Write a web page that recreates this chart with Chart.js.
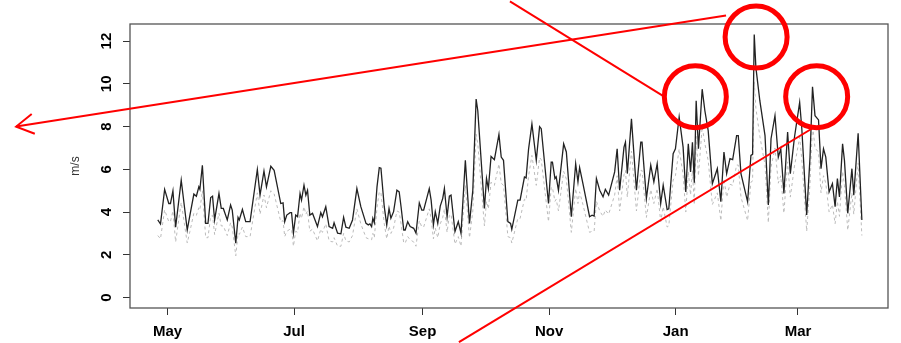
<!DOCTYPE html>
<html>
<head>
<meta charset="utf-8">
<script src="https://cdn.jsdelivr.net/npm/chart.js@4/dist/chart.umd.min.js"></script>
<style>
  html, body { margin: 0; padding: 0; background: #fff; }
  #chart { display: block; }
</style>
</head>
<body>
<canvas id="chart" width="901" height="343"></canvas>
<script>
// days counted from 1 May, values in m/s
const dayOffsets = [
  -4.7, -3.4, -1.4, 0.6, 1.4, 2.6, 3.9, 6.6, 9.5, 10.8, 12.7, 13.9, 15.1, 15.6, 16.8, 18.4, 19.5, 20.8, 21.7, 22.7,
  24.8, 25.9, 26.9, 28.8, 30.4, 31.2, 32.9, 34.0, 34.6, 36.1, 37.7, 39.8, 43.3, 44.6, 46.5, 47.7, 49.8, 51.4, 54.6, 55.7,
  56.5, 57.5, 59.1, 59.8, 60.7, 61.8, 62.7, 63.9, 64.6, 65.8, 66.7, 67.5, 68.6, 69.9, 72.3, 73.9, 74.7, 76.3, 77.9, 79.6,
  80.3, 82.0, 83.6, 84.9, 86.0, 87.6, 89.2, 91.3, 93.2, 95.7, 96.8, 97.6, 98.4, 99.0, 99.7, 101.0, 102.1, 102.9, 104.5, 105.7,
  106.8, 107.7, 109.0, 110.6, 111.7, 112.6, 113.9, 114.6, 115.8, 117.0, 118.7, 119.8, 121.4, 122.6, 123.5, 126.2, 127.1, 128.2, 129.1, 130.3,
  131.5, 132.7, 133.5, 134.8, 135.9, 136.7, 138.6, 140.2, 141.5, 143.6, 145.6, 147.2, 148.8, 149.6, 152.8, 153.8, 154.7, 156.0, 157.6, 159.8,
  160.9, 162.0, 164.1, 165.4, 166.0, 168.9, 170.0, 172.1, 172.9, 174.1, 175.7, 177.8, 179.4, 180.2, 183.7, 185.0, 185.6, 186.8, 187.4, 188.5,
  191.0, 192.3, 194.7, 196.8, 197.9, 198.7, 200.3, 203.5, 204.7, 205.7, 206.8, 208.4, 210.0, 211.1, 212.7, 215.6, 216.8, 218.0, 220.1, 220.8,
  221.7, 223.7, 226.1, 228.2, 228.8, 230.9, 233.0, 234.5, 236.1, 237.8, 239.0, 240.9, 241.7, 243.8, 244.9, 246.7, 248.6, 249.9, 251.1, 252.2,
  253.1, 254.0, 254.9, 256.0, 257.8, 259.1, 260.7, 262.7, 265.1, 266.8, 268.3, 269.6, 271.2, 272.5, 274.4, 275.2, 276.5, 279.7, 281.3, 282.1,
  282.9, 283.7, 285.6, 288.1, 289.7, 291.0, 292.9, 294.5, 295.7, 297.2, 299.0, 300.3, 302.3, 304.8, 305.8, 308.2, 309.8, 311.0, 312.2, 313.9,
  315.1, 316.3, 317.4, 319.0, 320.6, 321.9, 323.0, 324.0, 325.5, 326.4, 328.0, 330.0, 330.9, 333.0, 334.8
];
const speed = [
  3.63, 3.44, 5.06, 4.40, 4.40, 4.99, 3.29, 5.49, 3.16, 3.86, 4.84, 4.74, 5.18, 5.06, 6.19, 3.47, 3.47, 4.68, 4.74, 3.63,
  4.87, 4.17, 4.17, 3.63, 4.33, 4.09, 2.54, 3.75, 3.63, 4.12, 3.55, 3.55, 5.99, 4.79, 5.92, 5.18, 6.14, 5.95, 4.40, 4.43,
  3.55, 3.86, 3.97, 3.97, 3.01, 3.86, 3.78, 4.87, 4.56, 5.26, 4.79, 5.02, 3.86, 3.94, 3.32, 3.97, 3.78, 4.25, 3.32, 3.24,
  3.50, 3.01, 2.98, 3.75, 3.29, 3.24, 3.63, 5.10, 4.25, 3.47, 3.40, 3.45, 3.32, 3.71, 3.50, 5.18, 6.08, 6.05, 4.25, 3.40,
  4.17, 3.71, 4.02, 5.02, 4.94, 4.25, 3.16, 3.16, 3.55, 3.32, 3.24, 3.01, 4.43, 4.09, 4.09, 5.10, 4.56, 3.40, 4.02, 3.47,
  4.28, 4.64, 5.10, 3.78, 4.74, 4.79, 3.09, 3.55, 3.01, 6.42, 3.47, 5.02, 9.29, 8.74, 4.17, 5.57, 5.10, 6.60, 6.45, 7.63,
  6.57, 6.42, 3.55, 3.47, 3.19, 4.56, 4.56, 5.64, 5.60, 6.96, 8.12, 6.42, 8.00, 7.90, 4.40, 6.34, 6.34, 5.57, 5.65, 5.02,
  7.19, 6.81, 3.78, 6.26, 5.41, 6.08, 5.33, 3.78, 3.85, 3.81, 5.57, 5.02, 4.71, 5.06, 4.79, 5.88, 6.96, 5.02, 7.04, 7.27,
  5.80, 8.36, 5.02, 7.27, 7.27, 4.64, 6.19, 5.41, 6.26, 4.40, 5.26, 4.12, 4.15, 6.73, 6.96, 8.45, 7.04, 4.94, 7.19, 5.88,
  7.27, 5.37, 9.21, 6.96, 9.75, 8.74, 7.81, 5.33, 6.03, 4.48, 6.81, 5.80, 6.50, 6.45, 7.58, 7.58, 5.80, 4.48, 6.65, 6.70,
  12.31, 10.76, 9.21, 7.58, 4.33, 7.43, 8.51, 6.57, 6.96, 4.87, 7.74, 5.80, 7.50, 9.13, 7.97, 3.86, 6.57, 9.86, 8.51, 8.31,
  6.03, 6.96, 6.57, 4.94, 5.33, 4.25, 5.57, 4.71, 7.19, 6.42, 3.94, 6.03, 4.79, 7.69, 3.63
];
const speedLow = [
  2.90, 2.75, 4.10, 3.55, 3.55, 4.05, 2.60, 4.45, 2.55, 3.10, 3.95, 3.85, 4.20, 4.10, 5.00, 2.80, 2.80, 3.80, 3.85, 2.95,
  3.95, 3.35, 3.35, 2.90, 3.50, 3.30, 1.95, 3.00, 2.95, 3.30, 2.85, 2.85, 4.90, 3.90, 4.80, 4.20, 5.00, 4.85, 3.55, 3.60,
  2.85, 3.10, 3.20, 3.20, 2.40, 3.10, 3.05, 3.95, 3.70, 4.25, 3.90, 4.05, 3.10, 3.20, 2.65, 3.20, 3.05, 3.45, 2.65, 2.60,
  2.80, 2.40, 2.40, 3.00, 2.65, 2.60, 2.90, 4.15, 3.45, 2.80, 2.75, 2.75, 2.70, 3.00, 2.80, 4.20, 4.95, 4.90, 3.45, 2.75,
  3.35, 3.00, 3.25, 4.05, 4.00, 3.45, 2.55, 2.55, 2.85, 2.70, 2.60, 2.40, 3.60, 3.30, 3.30, 4.15, 3.70, 2.75, 3.25, 2.80,
  3.45, 3.75, 4.15, 3.05, 3.85, 3.90, 2.50, 2.85, 2.40, 5.25, 2.80, 4.05, 7.65, 7.20, 3.35, 4.50, 4.15, 5.40, 5.25, 6.25,
  5.35, 5.25, 2.85, 2.80, 2.55, 3.70, 3.70, 4.60, 4.55, 5.70, 6.65, 5.25, 6.55, 6.45, 3.55, 5.15, 5.15, 4.50, 4.60, 4.05,
  5.90, 5.55, 3.05, 5.10, 4.40, 4.95, 4.35, 3.05, 3.10, 3.10, 4.50, 4.05, 3.80, 4.10, 3.90, 4.80, 5.70, 4.05, 5.75, 5.95,
  4.70, 6.85, 4.05, 5.95, 5.95, 3.75, 5.05, 4.40, 5.10, 3.55, 4.25, 3.30, 3.35, 5.50, 5.70, 6.95, 5.75, 4.00, 5.90, 4.80,
  5.95, 4.35, 7.55, 5.70, 8.00, 7.20, 6.40, 4.35, 4.90, 3.60, 5.55, 4.70, 5.30, 5.25, 6.20, 6.20, 4.70, 3.60, 5.40, 5.45,
  10.10, 8.85, 7.55, 6.20, 3.50, 6.10, 7.00, 5.35, 5.70, 3.95, 6.35, 4.70, 6.15, 7.50, 6.50, 3.10, 5.35, 8.10, 7.00, 6.80,
  4.90, 5.70, 5.35, 4.00, 4.35, 3.45, 4.50, 3.80, 5.90, 5.25, 3.15, 4.90, 3.90, 6.30, 2.90
];
const monthTicks = [0, 61, 123, 184, 245, 304];
const monthLabels = ["May", "Jul", "Sep", "Nov", "Jan", "Mar"];
const yTicks = [0, 2, 4, 6, 8, 10, 12];
const yTitle = "m/s";

// red marker circles and lines drawn over the chart, in data units
const circles = [[254.5, 9.40], [283.8, 12.19], [313.0, 9.40]];
const redLines = [
  [165.1, 13.86, 238.9, 9.44],
  [269.3, 13.2, -73.0, 8.0],   // ends in an arrow head
  [310.8, 7.91, 140.5, -2.09],
];

const FONT = '"Liberation Sans", Arial, Helvetica, sans-serif';

const overlay = {
  id: "overlay",
  afterDraw(chart) {
    const { ctx, chartArea: a, scales: { x, y } } = chart;
    ctx.save();
    // box round the plot
    ctx.strokeStyle = "#555";
    ctx.lineWidth = 1.3;
    ctx.strokeRect(a.left, a.top, a.right - a.left, a.bottom - a.top);

    // y tick labels, turned like R draws them
    ctx.fillStyle = "#000";
    ctx.font = "bold 15px " + FONT;
    ctx.textAlign = "center";
    ctx.textBaseline = "middle";
    yTicks.forEach((v) => {
      ctx.save();
      ctx.translate(107, y.getPixelForValue(v));
      ctx.rotate(-Math.PI / 2);
      ctx.fillText(String(v), 0, 0);
      ctx.restore();
    });
    ctx.save();
    ctx.font = "12px " + FONT;
    ctx.fillStyle = "#333";
    ctx.translate(76, (a.top + a.bottom) / 2);
    ctx.rotate(-Math.PI / 2);
    ctx.fillText(yTitle, 0, 0);
    ctx.restore();

    // annotations
    ctx.strokeStyle = "#ff0000";
    ctx.lineWidth = 2;
    redLines.forEach(([x1, y1, x2, y2], i) => {
      const p1 = [x.getPixelForValue(x1), y.getPixelForValue(y1)];
      const p2 = [x.getPixelForValue(x2), y.getPixelForValue(y2)];
      ctx.beginPath();
      ctx.moveTo(p1[0], p1[1]);
      ctx.lineTo(p2[0], p2[1]);
      ctx.stroke();
      if (i === 1) {
        const ang = Math.atan2(p1[1] - p2[1], p1[0] - p2[0]);
        ctx.beginPath();
        ctx.moveTo(p2[0] + 20 * Math.cos(ang - Math.PI / 6), p2[1] + 20 * Math.sin(ang - Math.PI / 6));
        ctx.lineTo(p2[0], p2[1]);
        ctx.lineTo(p2[0] + 20 * Math.cos(ang + Math.PI / 6), p2[1] + 20 * Math.sin(ang + Math.PI / 6));
        ctx.stroke();
      }
    });
    ctx.lineWidth = 5;
    circles.forEach(([cx, cy]) => {
      ctx.beginPath();
      ctx.arc(x.getPixelForValue(cx), y.getPixelForValue(cy), 31, 0, Math.PI * 2);
      ctx.stroke();
    });
    ctx.restore();
  },
};

new Chart(document.getElementById("chart"), {
  type: "line",
  data: {
    datasets: [
      {
        data: dayOffsets.map((d, i) => ({ x: d, y: speed[i] })),
        borderColor: "#222",
        borderWidth: 1.3,
        pointRadius: 0,
        tension: 0,
        order: 1,
      },
      {
        data: dayOffsets.map((d, i) => ({ x: d, y: speedLow[i] })),
        borderColor: "#bbbbbb",
        borderWidth: 1,
        borderDash: [3, 3],
        pointRadius: 0,
        tension: 0,
        order: 2,
      },
    ],
  },
  options: {
    responsive: false,
    animation: false,
    layout: { padding: { top: 24, right: 13, left: 0, bottom: 0 } },
    plugins: { legend: { display: false }, tooltip: { enabled: false } },
    scales: {
      x: {
        type: "linear",
        min: -18.1,
        max: 347.4,
        afterFit: (s) => { s.height = 35; },
        afterBuildTicks: (s) => { s.ticks = monthTicks.map((v) => ({ value: v })); },
        border: { display: false },
        grid: { drawOnChartArea: false, drawTicks: true, tickLength: 7, color: "#333" },
        ticks: {
          autoSkip: false,
          maxRotation: 0,
          padding: 8,
          color: "#000",
          font: { family: FONT, size: 15, weight: "bold" },
          callback: (v) => monthLabels[monthTicks.indexOf(v)] ?? "",
        },
      },
      y: {
        min: -0.49,
        max: 12.8,
        afterFit: (s) => { s.width = 130; },
        afterBuildTicks: (s) => { s.ticks = yTicks.map((v) => ({ value: v })); },
        border: { display: false },
        grid: { drawOnChartArea: false, drawTicks: true, tickLength: 7, color: "#333" },
        ticks: { display: false },
      },
    },
  },
  plugins: [overlay],
});
</script>
</body>
</html>
